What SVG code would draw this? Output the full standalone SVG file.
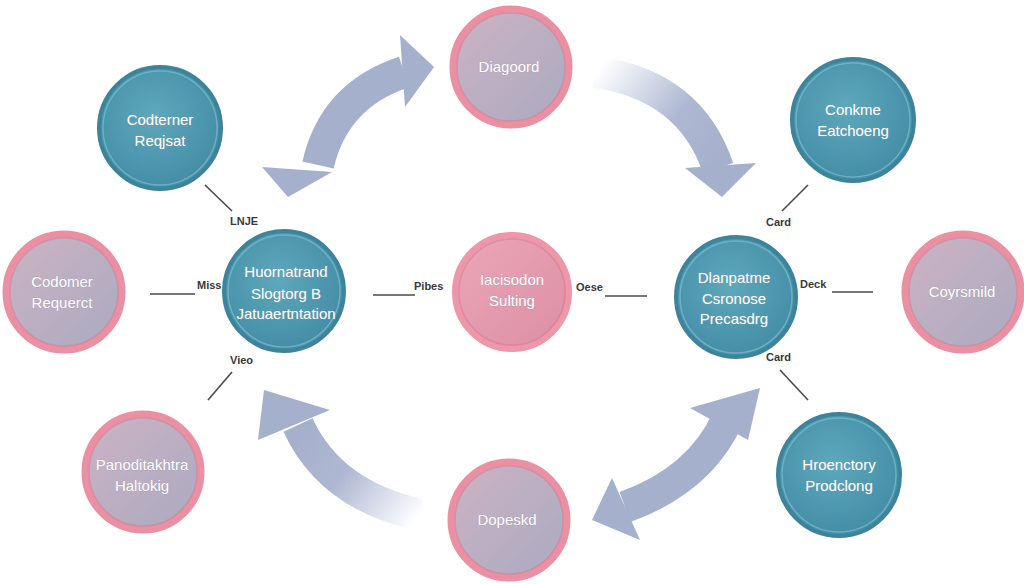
<svg xmlns="http://www.w3.org/2000/svg" width="1024" height="584" viewBox="0 0 1024 584">
  <style>
    .lbl { font-family: "Liberation Sans", "DejaVu Sans", sans-serif; font-size: 15px; fill: #ffffff; text-anchor: middle; stroke: #9a9aa8; stroke-width: 0.4px; paint-order: stroke; }
    .tag { font-family: "Liberation Sans", "DejaVu Sans", sans-serif; font-size: 11px; fill: #3a3a3a; font-weight: bold; }
    .wire { stroke: #4a4a4a; stroke-width: 1.6; fill: none; }
    .pink { fill: url(#pinkFill); stroke: #eb8fa2; stroke-width: 7; }
    .rose { fill: url(#roseFill); stroke: #ee97a8; stroke-width: 6; }
    .teal { fill: url(#tealFill); stroke: #3d849b; stroke-width: 4; }
    .tealHi { fill: none; stroke: #7cbccd; stroke-width: 1.5; opacity: 0.7; }
    .pinkIn { fill: none; stroke: #d9778c; stroke-width: 1.5; opacity: 0.5; }
    .band { fill: none; stroke: #a5b0cd; stroke-width: 32; }
    .head { fill: #a5b0cd; }
  </style>
  <defs>
    <linearGradient id="pinkFill" x1="0" y1="0" x2="1" y2="1">
      <stop offset="0" stop-color="#cdb3c3"/>
      <stop offset="1" stop-color="#a9aac1"/>
    </linearGradient>
    <linearGradient id="roseFill" x1="0" y1="0" x2="1" y2="1">
      <stop offset="0" stop-color="#eba7b8"/>
      <stop offset="1" stop-color="#dc8ea4"/>
    </linearGradient>
    <radialGradient id="tealFill" cx="0.45" cy="0.4" r="0.6">
      <stop offset="0" stop-color="#5ea8bc"/>
      <stop offset="1" stop-color="#438ea6"/>
    </radialGradient>
    <linearGradient id="fadeA" gradientUnits="userSpaceOnUse" x1="595" y1="75" x2="715" y2="165">
      <stop offset="0" stop-color="#a5b0cd" stop-opacity="0"/>
      <stop offset="0.6" stop-color="#a5b0cd" stop-opacity="0.9"/>
      <stop offset="1" stop-color="#a5b0cd"/>
    </linearGradient>
    <linearGradient id="fadeB" gradientUnits="userSpaceOnUse" x1="420" y1="515" x2="305" y2="430">
      <stop offset="0" stop-color="#a5b0cd" stop-opacity="0"/>
      <stop offset="0.6" stop-color="#a5b0cd" stop-opacity="0.9"/>
      <stop offset="1" stop-color="#a5b0cd"/>
    </linearGradient>
  </defs>

  <rect width="1024" height="584" fill="#ffffff"/>

  <!-- big flow arrows -->
  <g id="connectors">
    <!-- upper left, double headed -->
    <path class="band" d="M318,165 Q334,95 404,72"/>
    <polygon class="head" points="400,35 434,67 405,107"/>
    <polygon class="head" points="262,167 288,197 332,172"/>
    <!-- upper right, faded tail -->
    <path fill="none" stroke="url(#fadeA)" stroke-width="32" d="M595,72 Q690,85 718,168"/>
    <polygon class="head" points="685,168 722,197 756,163"/>
    <!-- lower left, faded tail -->
    <path fill="none" stroke="url(#fadeB)" stroke-width="32" d="M420,515 Q330,495 298,425"/>
    <polygon class="head" points="258,440 264,390 330,410"/>
    <!-- lower right, double headed -->
    <path class="band" d="M625,507 Q700,480 728,418"/>
    <polygon class="head" points="690,408 760,388 748,440"/>
    <polygon class="head" points="612,478 592,520 640,540"/>

    <!-- short leader lines -->
    <line class="wire" x1="205" y1="185" x2="232" y2="211"/>
    <line class="wire" x1="150" y1="294" x2="195" y2="294"/>
    <line class="wire" x1="232" y1="372" x2="208" y2="400"/>
    <line class="wire" x1="373" y1="295" x2="415" y2="295"/>
    <line class="wire" x1="605" y1="296" x2="647" y2="296"/>
    <line class="wire" x1="808" y1="185" x2="782" y2="211"/>
    <line class="wire" x1="832" y1="292" x2="873" y2="292"/>
    <line class="wire" x1="780" y1="370" x2="808" y2="400"/>

    <text class="tag" x="230" y="225">LNJE</text>
    <text class="tag" x="197" y="289">Miss</text>
    <text class="tag" x="230" y="364">Vieo</text>
    <text class="tag" x="414" y="290">Pibes</text>
    <text class="tag" x="576" y="291">Oese</text>
    <text class="tag" x="766" y="226">Card</text>
    <text class="tag" x="800" y="288">Deck</text>
    <text class="tag" x="766" y="361">Card</text>
  </g>

  <g id="node-top-left">
    <circle class="teal" cx="160" cy="128" r="61"/>
    <circle class="tealHi" cx="160" cy="128" r="57"/>
    <text class="lbl" x="160" y="125">Codterner</text>
    <text class="lbl" x="160" y="146">Reqjsat</text>
  </g>

  <g id="node-top">
    <circle class="pink" cx="511" cy="67" r="58"/>
    <circle class="pinkIn" cx="511" cy="67" r="54"/>
    <text class="lbl" x="509" y="72">Diagoord</text>
  </g>

  <g id="node-top-right">
    <circle class="teal" cx="853" cy="120" r="61"/>
    <circle class="tealHi" cx="853" cy="120" r="57"/>
    <text class="lbl" x="853" y="115">Conkme</text>
    <text class="lbl" x="853" y="136">Eatchoeng</text>
  </g>

  <g id="node-left">
    <circle class="pink" cx="64" cy="292" r="58"/>
    <circle class="pinkIn" cx="64" cy="292" r="54"/>
    <text class="lbl" x="62" y="287">Codomer</text>
    <text class="lbl" x="62" y="308">Requerct</text>
  </g>

  <g id="node-center-left">
    <circle class="teal" cx="284" cy="291" r="60"/>
    <circle class="tealHi" cx="284" cy="291" r="56"/>
    <text class="lbl" x="286" y="277">Huornatrand</text>
    <text class="lbl" x="286" y="299">Slogtorg B</text>
    <text class="lbl" x="286" y="319">Jatuaertntation</text>
  </g>

  <g id="node-center">
    <circle class="rose" cx="512" cy="292" r="57"/>
    <circle class="pinkIn" cx="512" cy="292" r="53"/>
    <text class="lbl" x="512" y="285">Iacisodon</text>
    <text class="lbl" x="512" y="306">Sulting</text>
  </g>

  <g id="node-center-right">
    <circle class="teal" cx="736" cy="297" r="60"/>
    <circle class="tealHi" cx="736" cy="297" r="56"/>
    <text class="lbl" x="734" y="283">Dlanpatme</text>
    <text class="lbl" x="734" y="304">Csronose</text>
    <text class="lbl" x="734" y="324">Precasdrg</text>
  </g>

  <g id="node-right">
    <circle class="pink" cx="963" cy="292" r="58"/>
    <circle class="pinkIn" cx="963" cy="292" r="54"/>
    <text class="lbl" x="962" y="297">Coyrsmild</text>
  </g>

  <g id="node-bottom-left">
    <circle class="pink" cx="143" cy="472" r="58"/>
    <circle class="pinkIn" cx="143" cy="472" r="54"/>
    <text class="lbl" x="142" y="470">Panoditakhtra</text>
    <text class="lbl" x="142" y="491">Haltokig</text>
  </g>

  <g id="node-bottom">
    <circle class="pink" cx="509" cy="520" r="58"/>
    <circle class="pinkIn" cx="509" cy="520" r="54"/>
    <text class="lbl" x="507" y="525">Dopeskd</text>
  </g>

  <g id="node-bottom-right">
    <circle class="teal" cx="839" cy="475" r="61"/>
    <circle class="tealHi" cx="839" cy="475" r="57"/>
    <text class="lbl" x="839" y="470">Hroenctory</text>
    <text class="lbl" x="839" y="491">Prodclong</text>
  </g>
</svg>
